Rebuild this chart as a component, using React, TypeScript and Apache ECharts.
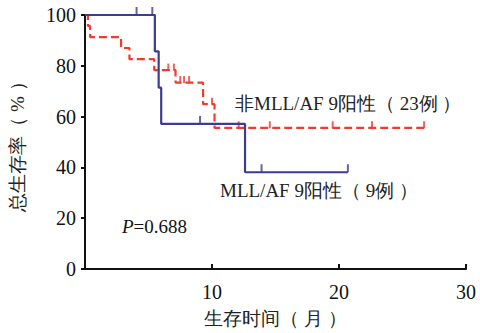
import React, { useEffect, useRef } from "react";
import * as echarts from "echarts";

// Kaplan–Meier step points [month, survival %]
const nonMllTimes = [0, 0.23, 0.4, 2.84, 3.5, 5.45, 7.13, 9.3, 10.2, 26.7];
const nonMllSurv = [100, 95.7, 91.3, 87.0, 82.6, 78.3, 73.4, 64.9, 55.6, 55.6];
const nonMllCensorTimes = [6.56, 7.0, 7.5, 7.8, 8.2, 10.0, 12.1, 14.55, 19.5, 22.6, 26.7];
const nonMllCensorSurv = [78.3, 78.3, 73.4, 73.4, 73.4, 64.9, 55.6, 55.6, 55.6, 55.6, 55.6];

const mllTimes = [0, 5.5, 5.8, 6.0, 12.6, 20.7];
const mllSurv = [100, 85.7, 71.4, 57.1, 38.1, 38.1];
const mllCensorTimes = [4.06, 5.3, 9.06, 13.9, 20.7];
const mllCensorSurv = [100, 100, 57.1, 38.1, 38.1];

const xTicks = [0, 10, 20, 30];
const yTicks = [0, 20, 40, 60, 80, 100];

const labelNonMll = "非MLL/AF 9阳性（ 23例 ）";
const labelMll = "MLL/AF 9阳性（ 9例 ）";
const pText = "=0.688";
const xName = "生存时间（ 月 ）";
const yName = "总生存率（ % ）";

const RED = "#ef3b30";
const BLUE = "#3d3d8f";
const FONT = "'Liberation Serif', 'Times New Roman', serif";

export default function App() {
  const ref = useRef<HTMLDivElement>(null);
  useEffect(() => {
    if (!ref.current) return;
    const chart = echarts.init(ref.current, undefined, { renderer: "svg" });
    const zip = (a: number[], b: number[]) => a.map((v, i) => [v, b[i]]);
    chart.setOption({
      animation: false,
      backgroundColor: "#ffffff",
      textStyle: { fontFamily: FONT },
      grid: { left: 82, top: 15, right: 14, bottom: 64 },
      xAxis: {
        type: "value",
        min: xTicks[0],
        max: xTicks[xTicks.length - 1],
        interval: 10,
        name: xName,
        nameLocation: "middle",
        nameGap: 40,
        nameTextStyle: { fontFamily: FONT, fontSize: 19, color: "#222" },
        axisLine: { lineStyle: { color: "#111", width: 2 } },
        axisTick: { inside: true, length: 5, lineStyle: { color: "#111", width: 2 } },
        axisLabel: {
          fontFamily: FONT,
          fontSize: 20,
          color: "#111",
          margin: 13,
          formatter: (v: number) => (v === 0 ? "" : String(v)),
        },
        splitLine: { show: false },
      },
      yAxis: {
        type: "value",
        min: yTicks[0],
        max: yTicks[yTicks.length - 1],
        interval: 20,
        name: yName,
        nameLocation: "middle",
        nameGap: 58,
        nameTextStyle: { fontFamily: FONT, fontSize: 19, color: "#222" },
        axisLine: { show: true, lineStyle: { color: "#111", width: 2 } },
        axisTick: { show: true, inside: false, length: 4, lineStyle: { color: "#111", width: 2 } },
        axisLabel: { fontFamily: FONT, fontSize: 20, color: "#111", margin: 9 },
        splitLine: { show: false },
      },
      series: [
        {
          type: "line",
          step: "end",
          data: zip(nonMllTimes, nonMllSurv),
          showSymbol: false,
          symbol: "none",
          lineStyle: { color: RED, width: 2.2, type: [8, 4] },
          z: 3,
        },
        {
          type: "scatter",
          data: zip(nonMllCensorTimes, nonMllCensorSurv),
          symbol: "rect",
          symbolSize: [2, 7],
          symbolOffset: [0, -3],
          itemStyle: { color: RED },
          clip: false,
          z: 3,
        },
        {
          type: "line",
          step: "end",
          data: zip(mllTimes, mllSurv),
          showSymbol: false,
          symbol: "none",
          lineStyle: { color: BLUE, width: 2.2 },
          z: 4,
        },
        {
          type: "scatter",
          data: zip(mllCensorTimes, mllCensorSurv),
          symbol: "rect",
          symbolSize: [2, 8],
          symbolOffset: [0, -4],
          itemStyle: { color: BLUE },
          clip: false,
          z: 4,
        },
      ],
      graphic: [
        {
          type: "text",
          left: 235,
          top: 94,
          style: { text: labelNonMll, font: `19px ${FONT}`, fill: "#222" },
        },
        {
          type: "text",
          left: 220,
          top: 181,
          style: { text: labelMll, font: `19px ${FONT}`, fill: "#222" },
        },
        {
          type: "text",
          left: 122,
          top: 217,
          style: {
            rich: {
              p: { fontFamily: FONT, fontSize: 19, fontStyle: "italic", fill: "#111" },
              n: { fontFamily: FONT, fontSize: 19, fill: "#111" },
            },
            text: `{p|P}{n|${pText}}`,
          },
        },
      ],
    });
    return () => chart.dispose();
  }, []);
  return <div ref={ref} style={{ width: 480, height: 333, position: "absolute", left: 0, top: 0 }} />;
}
